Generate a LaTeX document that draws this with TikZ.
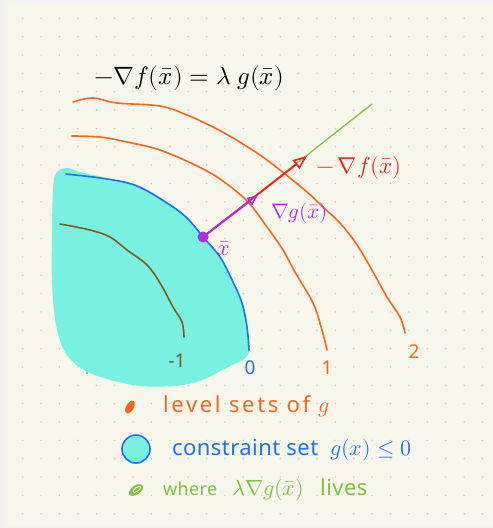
\documentclass[tikz,border=0pt]{standalone}
\usepackage{fontspec}
\usepackage{unicode-math}
\setmathfont{Latin Modern Math}
\setmainfont{Noto Sans}
\newfontfamily\handA[LetterSpace=12]{Noto Sans}
\newfontfamily\handB[LetterSpace=2]{Noto Sans}
\usetikzlibrary{arrows.meta}
\definecolor{bg}{RGB}{248,245,234}
\definecolor{edgec}{RGB}{243,243,243}
\definecolor{dotc}{RGB}{196,196,190}
\definecolor{lvlor}{RGB}{240,106,30}
\definecolor{cblue}{RGB}{30,115,230}
\definecolor{cfill}{RGB}{122,240,226}
\definecolor{olivec}{RGB}{125,95,20}
\definecolor{vred}{RGB}{240,30,30}
\definecolor{vpurp}{RGB}{168,48,232}
\definecolor{lgreen}{RGB}{125,194,66}
\begin{document}
\begin{tikzpicture}[x=1pt,y=-1pt,
  levelline/.style={draw=lvlor, line width=1.6, line cap=round, line join=round},
  lbl/.style={inner sep=0pt, font=\fontsize{19}{22}\selectfont},
  vecarrow/.style={line width=1.8, line cap=round},
  legtext/.style={inner sep=0pt, anchor=base west, font=\fontsize{22}{26}\selectfont}]
\useasboundingbox (0,0) rectangle (493,528);
\fill[edgec] (0,0) rectangle (493,528);
\fill[bg] (6,3) rectangle (493,526);
\foreach \i in {0,...,25}{
  \foreach \j in {0,...,27}{
    \fill[dotc] ({22.7+18.39*\i},{18.3+18.35*\j}) circle (0.75);
  }
}
% constraint set
\fill[cfill] plot[smooth cycle, tension=0.55] coordinates {(53,190) (56,173) (67,168) (80,172) (107,178) (137,185) (167,202) (187,217) (203,236) (220,256) (233,281) (242,302) (247,326) (249,350) (244,359) (228,367) (200,381) (173,386) (140,386) (107,379) (82,369) (65,352) (56,325) (52,283) (52,233)};
\fill[cblue] (87,373) circle (0.9);
% level 0 boundary
\draw[cblue, line width=1.6, line cap=round] plot[smooth, tension=0.6] coordinates {(66,174) (107,179) (137,186) (167,203) (187,218) (203,237) (220,257) (233,282) (242,303) (247,327) (249,350)};
% level -1
\draw[olivec, line width=1.6, line cap=round] plot[smooth, tension=0.6] coordinates {(60,224) (90,230) (110,237) (127,250) (147,265) (160,283) (173,307) (182,322) (184,337)};
% level 1
\draw[levelline] plot[smooth, tension=0.6] coordinates {(72,136) (100,137) (127,142) (160,150) (195,165) (220,179) (247,201) (267,227) (283,250) (295,272) (313,303) (322,330) (327,350)};
% level 2
\draw[levelline] plot[smooth, tension=0.6] coordinates {(73,102) (93,98) (117,103) (160,106) (187,115) (213,127) (233,138) (260,155) (280,170) (307,192) (323,207) (340,223) (355,242) (368,263) (387,297) (400,317) (405,333)};
% level labels
\node[lbl, text=lvlor] (l2) at (414,352) {2};
\node[lbl, text=lvlor] (l1) at (327,368) {1};
\node[lbl, text=cblue] (l0) at (250,368) {0};
\node[lbl, text=olivec] (lm1) at (177,361) {-1};
% point and vectors
\node[circle, fill=vpurp, minimum size=11pt, inner sep=0pt] (xb) at (203,237) {};
\coordinate (gend) at (372,104);
\coordinate (ftip) at (307,156);
\coordinate (gtip) at (258,195);
\draw[lgreen, line width=1.3] (xb.center) -- (gend);
\draw[vecarrow, vred, -{Triangle[open, length=14pt, width=11pt, line width=1.6pt]}] (xb.center) -- (ftip);
\draw[vecarrow, vpurp, -{Triangle[open, length=11pt, width=9pt, line width=1.6pt]}] (xb.center) -- (gtip);
\node[inner sep=0pt, text=vpurp, font=\fontsize{22}{24}\selectfont] (xlab) at (224,249) {$\bar{x}$};
\node[inner sep=0pt, anchor=west, text=vred, font=\fontsize{23}{26}\selectfont] (flab) at (316,168) {$-\,\nabla f(\bar{x})$};
\node[inner sep=0pt, anchor=west, text=vpurp, font=\fontsize{21}{24}\selectfont] (glab) at (271,213) {$\nabla g(\bar{x})$};
% title
\node[inner sep=0pt, anchor=west, font=\fontsize{25}{28}\selectfont] (title) at (94,78) {$-\nabla f(\bar{x}) = \lambda\; g(\bar{x})$};
% legend
\fill[lvlor, rotate around={60:(130,407)}] (130,407) ellipse [x radius=7, y radius=3.8];
\node[legtext, text=lvlor] (leg1) at (163,412) {\handA level sets of $g$};
\filldraw[fill=cfill, draw=cblue, line width=1.6] (136,449) circle (14);
\node[legtext, text=cblue] (leg2) at (172,455) {\handB constraint set};
\node[legtext, text=cblue] (leg2m) at (330,455) {$g(x)\leq 0$};
\fill[lgreen, rotate around={35:(136,490)}] (136,490) ellipse [x radius=8, y radius=4.5];
\draw[bg, line width=0.9, rotate around={35:(136,490)}] (137,490) ellipse [x radius=4.5, y radius=1.8];
\node[legtext, text=lgreen, font=\fontsize{18}{22}\selectfont] (leg3a) at (163,495) {\handB where};
\node[legtext, text=lgreen] (leg3b) at (232,495) {$\lambda\nabla g(\bar{x})$};
\node[legtext, text=lgreen] (leg3c) at (320,495) {\handB lives};
\end{tikzpicture}
\end{document}
